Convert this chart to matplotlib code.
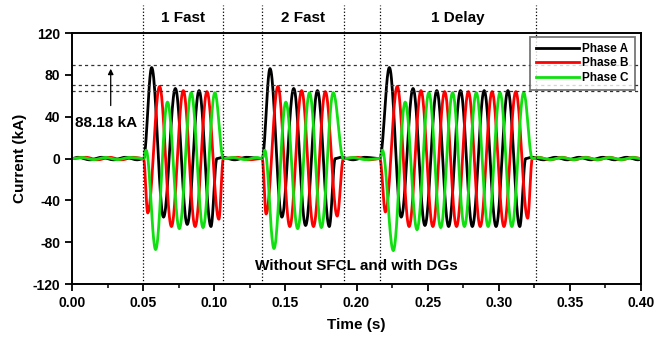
import numpy as np
import matplotlib
matplotlib.use('agg')
import matplotlib.pyplot as plt
from matplotlib.ticker import MultipleLocator
from matplotlib.transforms import blended_transform_factory

plt.rcParams['font.family'] = ['Liberation Sans', 'DejaVu Sans']
plt.rcParams['font.weight'] = 'bold'
plt.rcParams['axes.unicode_minus'] = False

# 60 Hz system
F = 60.0
HALF = 0.5 / F

# reclosing windows (s)
win_start = [0.0503, 0.1337, 0.2164]
win_end = [0.1064, 0.1908, 0.3236]
win_label = ['1 Fast', '2 Fast', '1 Delay']
marks = [0.0501, 0.1063, 0.1337, 0.191, 0.2164, 0.326]
# time of the first phase A peak in each window
first_peak = [0.0560, 0.1392, 0.2231]

# successive half-cycle extrema (kA)
a_ext = [
    [87, -56, 67, -63, 65, -65],
    [86, -56, 67, -64, 65, -65],
    [87, -56, 67, -64, 65, -65, 65, -65, 65, -65, 65, -65],
]
b_ext = [
    [-52, 69, -65, 65, -65, 64, -58],
    [-53, 69, -65, 65, -65, 64, -55],
    [-51, 69, -65, 65, -65, 64, -65, 64, -65, 64, -65, 64, -57],
]
c_ext = [
    [-87, 54, -67, 63, -66, 63],
    [-86, 54, -67, 63, -66, 63],
    [-88, 54, -68, 63, -66, 63, -65, 63, -65, 63, -65, 63],
]
c_bump = 8          # small positive kick of phase C at fault inception
load_amp = [1.2, 1.2, 1.0]   # load current ripple outside the faults (kA)

peak_lines = [89.0, 70.4, 64.7]
peak_text = '88.18 kA'


def knots_for(phase):
    ext = [a_ext, b_ext, c_ext][phase]
    shift = [0.0, -HALF / 3, HALF / 3][phase]
    kn = []
    prev_end = 0.0
    for w in range(3):
        # load ripple before the window
        tq = np.arange(prev_end + HALF / 2 + phase * HALF * 2 / 3 % HALF,
                       win_start[w] - HALF / 3, HALF)
        for i, t in enumerate(tq):
            kn.append((t, load_amp[phase] * (1 if i % 2 == 0 else -1)))
        kn.append((win_start[w], 0.0))
        if phase == 2:
            kn.append((win_start[w] + 0.0018, c_bump))
        t0 = first_peak[w] + shift
        for k, v in enumerate(ext[w]):
            kn.append((t0 + k * HALF, v))
        if phase == 0:
            tend = t0 + (len(ext[w]) - 1) * HALF + HALF / 2
        else:
            tend = win_end[w]
        kn.append((tend, 0.0))
        prev_end = tend
    tq = np.arange(prev_end + HALF / 2, 0.4, HALF)
    for i, t in enumerate(tq):
        kn.append((t, load_amp[phase] * (1 if i % 2 == 0 else -1)))
    kn.append((0.4, 0.0))
    return kn


def render(kn):
    ts, vs = [], []
    t_prev, v_prev = 0.0, 0.0
    for t, v in kn:
        s = np.linspace(0, 1, 24)
        ts.append(t_prev + (t - t_prev) * s)
        vs.append(v_prev + (v - v_prev) * (1 - np.cos(np.pi * s)) / 2)
        t_prev, v_prev = t, v
    return np.concatenate(ts), np.concatenate(vs)


fig = plt.figure(figsize=(6.65, 3.37), dpi=100)
ax = fig.add_axes([0.1083, 0.157, 0.8556, 0.745])

colors = ['black', '#ff0000', '#10e010']
names = ['Phase A', 'Phase B', 'Phase C']
for p in range(3):
    t, v = render(knots_for(p))
    ax.plot(t, v, color=colors[p], lw=2.0, label=names[p])

ax.set_xlim(0, 0.4)
ax.set_ylim(-120, 120)
ax.xaxis.set_major_locator(MultipleLocator(0.05))
ax.xaxis.set_minor_locator(MultipleLocator(0.025))
ax.yaxis.set_major_locator(MultipleLocator(40))
ax.xaxis.set_major_formatter(matplotlib.ticker.FormatStrFormatter('%.2f'))
ax.tick_params(which='major', direction='out', length=5, width=1.3,
               labelsize=10, top=False, right=False)
ax.tick_params(which='minor', direction='out', length=3, width=1.1,
               top=False, right=False)
for s in ax.spines.values():
    s.set_linewidth(1.4)

# dotted guides
trans = blended_transform_factory(ax.transData, ax.transAxes)
for m in marks:
    ax.axvline(m, ymin=0, ymax=1.11, color='black', ls=':', lw=0.9,
               clip_on=False)
for y in peak_lines:
    ax.axhline(y, color='#333333', ls=(0, (2.5, 2.5)), lw=0.9)
for w in range(3):
    ax.text((marks[2 * w] + marks[2 * w + 1]) / 2, 1.06, win_label[w],
            transform=trans, ha='center', va='center', fontsize=11,
            fontweight='bold')

ax.annotate('', xy=(0.0272, 88.5), xytext=(0.0272, 48),
            arrowprops=dict(arrowstyle='-|>', color='black', lw=0.9,
                            mutation_scale=8))
ax.text(0.002, 34, peak_text, fontsize=11, fontweight='bold',
        va='center', ha='left')
ax.text(0.2, -103, 'Without SFCL and with DGs', fontsize=11,
        fontweight='bold', ha='center', va='center')

ax.set_xlabel('Time (s)', fontsize=11, fontweight='bold', labelpad=6)
ax.set_ylabel('Current (kA)', fontsize=11, fontweight='bold', labelpad=4)

leg = ax.legend(loc='upper right', bbox_to_anchor=(0.989, 0.984),
                borderaxespad=0, fancybox=False, edgecolor='#555555',
                handlelength=3.6, handletextpad=0.3, labelspacing=0.2,
                borderpad=0.5, prop={'weight': 'bold', 'size': 8.5})
leg.get_frame().set_linewidth(1.3)

fig.savefig('out.png', dpi=100)
